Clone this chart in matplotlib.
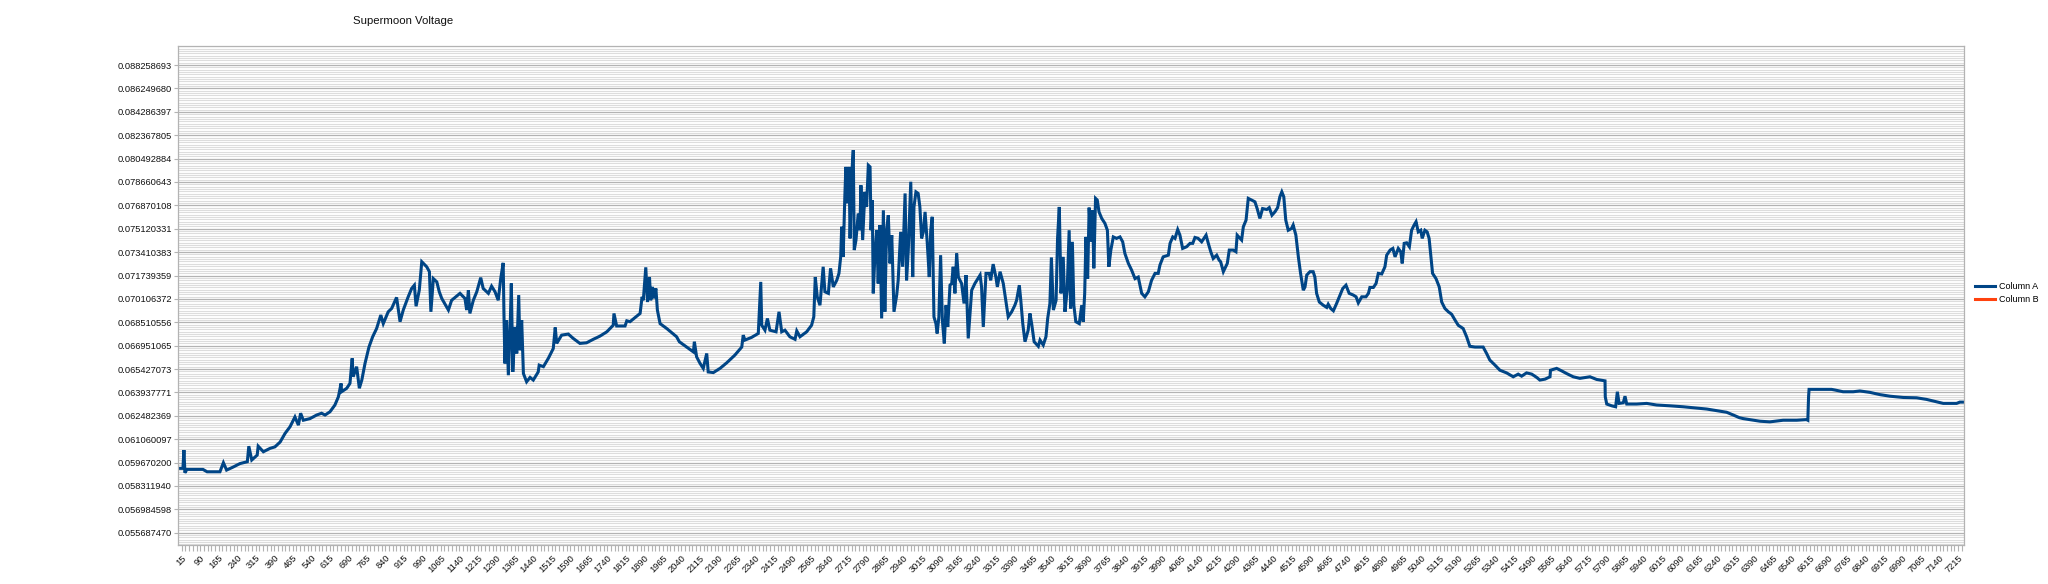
import matplotlib
matplotlib.use("Agg")
import matplotlib.pyplot as plt
from matplotlib.ticker import NullFormatter, FixedLocator
import numpy as np

plt.rcParams['font.family'] = ['Liberation Sans', 'DejaVu Sans']

# ---------------- data ----------------
x_seg1 = [1, 20, 24, 28, 36, 101, 118, 170, 184, 197, 224, 251, 281, 287, 299, 321, 325, 346, 373, 393,
          414, 434, 454, 474, 488, 497, 508, 535, 562, 582, 596, 616, 636, 650, 661, 663, 684, 697, 706, 710,
          724, 735, 745, 758, 774, 789, 805, 822, 832, 852, 866, 886, 900, 913, 933, 947, 958, 965, 978, 988,
          1008, 1019, 1025, 1035, 1049, 1059]
y_seg1 = [0.05933, 0.05933, 0.06041, 0.05907, 0.05927, 0.05927, 0.05913, 0.05913, 0.05966, 0.05923,
          0.05941, 0.05961, 0.05972, 0.06064, 0.05982, 0.06011, 0.06064, 0.06031, 0.06051, 0.06060,
          0.06089, 0.06141, 0.06181, 0.06241, 0.06191, 0.06264, 0.06221, 0.06231, 0.06253, 0.06264,
          0.06253, 0.06273, 0.06315, 0.06366, 0.06451, 0.06398, 0.06420, 0.06451, 0.06612, 0.06493,
          0.06558, 0.06420, 0.06472, 0.06579, 0.06686, 0.06754, 0.06809, 0.06900, 0.06842, 0.06922,
          0.06945, 0.07021, 0.06855, 0.06934, 0.07025, 0.07083, 0.07106, 0.06960, 0.07071, 0.07272,
          0.07236, 0.07201, 0.06922, 0.07152, 0.07129, 0.07060]

x_seg2 = [1069, 1096, 1109, 1143, 1163, 1170, 1177, 1183, 1197, 1211, 1227, 1237, 1258, 1271, 1285,
          1298, 1308, 1318, 1321, 1325, 1332, 1339, 1346, 1351, 1357, 1366, 1373, 1381, 1386, 1393,
          1400, 1413, 1427, 1440, 1460, 1464, 1481, 1501, 1521, 1529, 1535, 1555, 1582, 1602, 1629,
          1656, 1683, 1710, 1738, 1764, 1767, 1778, 1812, 1819, 1832, 1873, 1881, 1886, 1896, 1903,
          1911, 1916, 1923, 1929, 1937, 1943, 1954, 1981, 2021, 2032, 2062, 2089, 2093, 2102, 2116]
y_seg2 = [0.07014, 0.06934, 0.07001, 0.07049, 0.07014, 0.06934, 0.07071, 0.06911, 0.07001, 0.07060,
          0.07159, 0.07083, 0.07049, 0.07099, 0.07060, 0.07001, 0.07152, 0.07264, 0.06922, 0.06579,
          0.06866, 0.06503, 0.06798, 0.07118, 0.06524, 0.06820, 0.06644, 0.07037, 0.06665, 0.06866,
          0.06514, 0.06461, 0.06489, 0.06472, 0.06524, 0.06568, 0.06558, 0.06612, 0.06676, 0.06816,
          0.06710, 0.06765, 0.06772, 0.06743, 0.06710, 0.06714, 0.06737, 0.06758, 0.06787, 0.06831,
          0.06911, 0.06826, 0.06826, 0.06861, 0.06855, 0.06911, 0.07025, 0.07001, 0.07232, 0.06989,
          0.07163, 0.07001, 0.07094, 0.07014, 0.07083, 0.06934, 0.06842, 0.06809, 0.06754, 0.06721,
          0.06686, 0.06654, 0.06721, 0.06622, 0.06579]

x_seg3 = [2129, 2143, 2149, 2170, 2197, 2224, 2257, 2285, 2291, 2298, 2325, 2352, 2362, 2366, 2379,
          2389, 2399, 2424, 2436, 2447, 2460, 2480, 2501, 2508, 2521, 2548, 2568, 2577, 2583, 2591,
          2602, 2615, 2622, 2636, 2645, 2656, 2670, 2679, 2686, 2690, 2696, 2703, 2707, 2713, 2720,
          2724, 2731, 2737, 2741, 2748, 2757, 2764, 2768, 2775, 2784, 2791, 2798, 2805, 2809, 2814,
          2818, 2825, 2832, 2838, 2845, 2852, 2859, 2865, 2872, 2879, 2886, 2893, 2902, 2913, 2919,
          2929, 2937, 2947, 2953, 2960, 2970, 2978, 2983, 2991, 3000, 3007, 3014, 3021, 3028, 3037,
          3045, 3051, 3057, 3064, 3072, 3077, 3084, 3091, 3098, 3106, 3113, 3120, 3129]
y_seg3 = [0.06547, 0.06644, 0.06524, 0.06520, 0.06547, 0.06583, 0.06633, 0.06686, 0.06765, 0.06732,
          0.06750, 0.06776, 0.07129, 0.06831, 0.06798, 0.06877, 0.06798, 0.06787, 0.06922, 0.06787,
          0.06798, 0.06754, 0.06737, 0.06793, 0.06754, 0.06787, 0.06831, 0.06888, 0.07163, 0.07025,
          0.06967, 0.07236, 0.07060, 0.07049, 0.07225, 0.07094, 0.07140, 0.07189, 0.07307, 0.07527,
          0.07307, 0.07765, 0.07984, 0.07702, 0.07984, 0.07441, 0.07933, 0.08117, 0.07356, 0.07429,
          0.07626, 0.07501, 0.07841, 0.07429, 0.07790, 0.07675, 0.07997, 0.07984, 0.07501, 0.07727,
          0.07049, 0.07331, 0.07501, 0.07118, 0.07539, 0.06877, 0.07650, 0.06922, 0.07501, 0.07613,
          0.07260, 0.07465, 0.06922, 0.07037, 0.07140, 0.07489, 0.07236, 0.07778, 0.07140, 0.07356,
          0.07868, 0.07163, 0.07675, 0.07790, 0.07778, 0.07675, 0.07441, 0.07489, 0.07638, 0.07405,
          0.07163, 0.07501, 0.07601, 0.06888, 0.06842, 0.06776, 0.06888, 0.07319, 0.06866, 0.06710,
          0.06967, 0.06820, 0.07106]

x_seg4 = [3136, 3142, 3149, 3156, 3163, 3176, 3186, 3194, 3203, 3217, 3230, 3251, 3257, 3264, 3275,
          3288, 3294, 3304, 3315, 3321, 3332, 3345, 3356, 3365, 3379, 3392, 3399, 3410, 3416, 3424,
          3433, 3446, 3453, 3460, 3470, 3487, 3494, 3507, 3518, 3525, 3534, 3540, 3548, 3559, 3565,
          3572, 3579, 3588, 3595, 3604, 3612, 3618, 3625, 3631, 3639, 3653, 3663, 3669, 3675, 3680,
          3687, 3693, 3700, 3707, 3712, 3719, 3726, 3733, 3744, 3757, 3767, 3773, 3781, 3791, 3804,
          3818, 3829, 3838, 3852, 3865, 3879, 3892, 3899, 3906, 3919, 3933, 3946, 3960, 3973, 3980,
          3993, 4014, 4021, 4032, 4041, 4052, 4061, 4072, 4088, 4102, 4113, 4122, 4135, 4149, 4167,
          4176, 4186, 4196, 4210, 4220]
y_seg4 = [0.07118, 0.07236, 0.07049, 0.07331, 0.07163, 0.07118, 0.06979, 0.07177, 0.06743, 0.07071,
          0.07118, 0.07177, 0.07094, 0.06820, 0.07189, 0.07189, 0.07140, 0.07255, 0.07163, 0.07094,
          0.07201, 0.07118, 0.06989, 0.06888, 0.06922, 0.06967, 0.07001, 0.07106, 0.07001, 0.06842,
          0.06721, 0.06798, 0.06911, 0.06842, 0.06721, 0.06691, 0.06732, 0.06699, 0.06754, 0.06877,
          0.06979, 0.07303, 0.06934, 0.07001, 0.07441, 0.07675, 0.07049, 0.07307, 0.06922, 0.07071,
          0.07501, 0.06945, 0.07416, 0.06967, 0.06855, 0.06842, 0.06967, 0.06855, 0.07049, 0.07452,
          0.07152, 0.07670, 0.07416, 0.07650, 0.07225, 0.07740, 0.07727, 0.07638, 0.07589, 0.07552,
          0.07501, 0.07236, 0.07356, 0.07452, 0.07441, 0.07452, 0.07416, 0.07331, 0.07260, 0.07213,
          0.07152, 0.07163, 0.07106, 0.07049, 0.07025, 0.07060, 0.07140, 0.07189, 0.07189, 0.07248,
          0.07307, 0.07319, 0.07405, 0.07452, 0.07441, 0.07506, 0.07465, 0.07368, 0.07380, 0.07405,
          0.07405, 0.07448, 0.07441, 0.07416, 0.07465, 0.07405, 0.07344, 0.07295, 0.07319, 0.07283]

x_seg5 = [4226, 4237, 4253, 4261, 4277, 4288, 4293, 4311, 4318, 4329, 4338, 4352, 4365, 4374, 4385,
          4396, 4413, 4423, 4434, 4446, 4457, 4466, 4474, 4482, 4490, 4500, 4514, 4520, 4531, 4541,
          4550, 4561, 4568, 4575, 4588, 4601, 4608, 4615, 4626, 4642, 4656, 4662, 4672, 4683, 4696,
          4710, 4721, 4734, 4747, 4764, 4775, 4784, 4798, 4815, 4825, 4831, 4845, 4856, 4865, 4879,
          4892, 4899, 4913, 4924, 4933, 4946, 4956, 4962, 4970, 4980, 4991, 5000, 5010, 5018, 5027,
          5037, 5043, 5054, 5063, 5071, 5077, 5085, 5099, 5112, 5122, 5135, 5149, 5162, 5176, 5189,
          5209, 5223, 5236, 5257, 5277]
y_seg5 = [0.07272, 0.07201, 0.07260, 0.07356, 0.07356, 0.07344, 0.07465, 0.07429, 0.07527, 0.07576,
          0.07740, 0.07727, 0.07714, 0.07663, 0.07589, 0.07663, 0.07656, 0.07670, 0.07613, 0.07638,
          0.07670, 0.07752, 0.07790, 0.07752, 0.07576, 0.07501, 0.07515, 0.07539, 0.07465, 0.07307,
          0.07189, 0.07071, 0.07094, 0.07177, 0.07201, 0.07201, 0.07163, 0.07049, 0.06989, 0.06967,
          0.06952, 0.06974, 0.06945, 0.06929, 0.06979, 0.07037, 0.07083, 0.07106, 0.07049, 0.07037,
          0.07025, 0.06983, 0.07025, 0.07025, 0.07049, 0.07090, 0.07090, 0.07118, 0.07189, 0.07185,
          0.07236, 0.07319, 0.07356, 0.07368, 0.07307, 0.07368, 0.07344, 0.07260, 0.07405, 0.07409,
          0.07380, 0.07501, 0.07539, 0.07564, 0.07489, 0.07501, 0.07441, 0.07501, 0.07489, 0.07441,
          0.07331, 0.07189, 0.07152, 0.07094, 0.06989, 0.06945, 0.06922, 0.06906, 0.06866, 0.06831,
          0.06809, 0.06754, 0.06691, 0.06686, 0.06686]

x_seg6 = [5290, 5304, 5317, 5338, 5358, 5385, 5412, 5432, 5446, 5466, 5487, 5507, 5520, 5541, 5561,
          5563, 5588, 5608, 5628, 5655, 5682, 5723, 5750, 5784, 5785, 5791, 5811, 5827, 5834, 5841,
          5858, 5865, 5872, 5912, 5953, 5993, 6047, 6101, 6155, 6196, 6236, 6277, 6304, 6328]
y_seg6 = [0.06686, 0.06644, 0.06601, 0.06568, 0.06535, 0.06518, 0.06493, 0.06510, 0.06497, 0.06518,
          0.06510, 0.06489, 0.06472, 0.06478, 0.06493, 0.06535, 0.06547, 0.06531, 0.06514, 0.06493,
          0.06483, 0.06493, 0.06476, 0.06467, 0.06366, 0.06321, 0.06310, 0.06304, 0.06398, 0.06325,
          0.06329, 0.06370, 0.06321, 0.06321, 0.06325, 0.06315, 0.06310, 0.06304, 0.06296, 0.06290,
          0.06280, 0.06270, 0.06253, 0.06237]

x_seg7 = [6344, 6385, 6412, 6452, 6506, 6561, 6601, 6606, 6609, 6611, 6655, 6702, 6716, 6749, 6790,
          6817, 6858, 6898, 6939, 6993, 7047, 7087, 7128, 7155, 7209, 7222, 7236]
y_seg7 = [0.06231, 0.06221, 0.06215, 0.06211, 0.06221, 0.06221, 0.06225, 0.06221, 0.06366, 0.06413,
          0.06413, 0.06413, 0.06409, 0.06398, 0.06398, 0.06403, 0.06394, 0.06380, 0.06370, 0.06362,
          0.06360, 0.06350, 0.06335, 0.06325, 0.06325, 0.06333, 0.06333]

column_a_x = x_seg1 + x_seg2 + x_seg3 + x_seg4 + x_seg5 + x_seg6 + x_seg7
column_a_y = y_seg1 + y_seg2 + y_seg3 + y_seg4 + y_seg5 + y_seg6 + y_seg7
column_b_x = []
column_b_y = []

series_names = ["Column A", "Column B"]
series_colors = ["#004586", "#ff420e"]

ytick_labels = ["0.055687470", "0.056984598", "0.058311940", "0.059670200", "0.061060097",
                "0.062482369", "0.063937771", "0.065427073", "0.066951065", "0.068510556",
                "0.070106372", "0.071739359", "0.073410383", "0.075120331", "0.076870108",
                "0.078660643", "0.080492884", "0.082367805", "0.084286397", "0.086249680",
                "0.088258693"]
ytick_values = [float(s) for s in ytick_labels]

xtick_values = list(range(15, 7216, 75))
xtick_labels = [str(v) for v in xtick_values]
x_minor_step = 15
n_categories = 7239

title = "Supermoon Voltage"

# ---------------- figure ----------------
W, H = 2048, 584
fig = plt.figure(figsize=(W / 100, H / 100), dpi=100)
ax = fig.add_axes([178 / W, (H - 545) / H, (1964 - 178) / W, (545 - 46.3) / H])

ax.set_yscale('log')
ymin = ytick_values[0] * 10 ** (-(545 - 532.7) / 2338)
ymax = ytick_values[0] * 10 ** ((532.7 - 46.3) / 2338)
ax.set_ylim(ymin, ymax)
ax.set_xlim(0, n_categories)

grid_major = '#b3b3b3'
grid_minor = '#dddddd'

ax.yaxis.set_major_locator(FixedLocator(ytick_values))
ax.set_yticklabels(ytick_labels)
# minor gridlines: 10 subdivisions per major interval (log-even)
minor_vals = []
for j in range(-6, 212):
    if j % 10 == 0:
        continue
    v = ytick_values[0] * 10 ** (0.001 * j)
    if ymin < v < ymax:
        minor_vals.append(v)
ax.yaxis.set_minor_locator(FixedLocator(minor_vals))
ax.yaxis.set_minor_formatter(NullFormatter())

ax.set_xticks(xtick_values)
ax.set_xticklabels(xtick_labels, rotation=45, ha='right', va='top', rotation_mode='anchor')
ax.set_xticks(list(np.arange(xtick_values[0], n_categories, x_minor_step)), minor=True)

ax.grid(True, which='minor', axis='y', color=grid_minor, lw=0.8)
ax.grid(True, which='major', axis='y', color=grid_major, lw=0.9)
ax.set_axisbelow(True)

ax.tick_params(axis='y', which='major', length=3, width=0.8, color=grid_major,
               labelsize=6.7, pad=1.5, labelcolor='#111111')
ax.tick_params(axis='y', which='minor', length=0)
ax.tick_params(axis='x', which='both', length=4, width=0.8, color=grid_major,
               labelsize=6.7, pad=2, labelcolor='#111111')

for s in ax.spines.values():
    s.set_color(grid_major)
    s.set_linewidth(0.9)

ax.plot(column_a_x, column_a_y, color=series_colors[0], lw=2.2, label=series_names[0],
        solid_joinstyle='miter')
ax.plot(column_b_x, column_b_y, color=series_colors[1], lw=2.2, label=series_names[1])

fig.legend(loc='upper left', bbox_to_anchor=(1975 / W, 1 - 282 / H), frameon=False,
           fontsize=6.5, handlelength=2.2, handletextpad=0.45, labelspacing=0.45,
           borderpad=0, borderaxespad=0)

fig.text(403 / W, 1 - 20.5 / H, title, ha='center', va='center', fontsize=8.2, color='#111111')

fig.savefig('out.png', dpi=100)
